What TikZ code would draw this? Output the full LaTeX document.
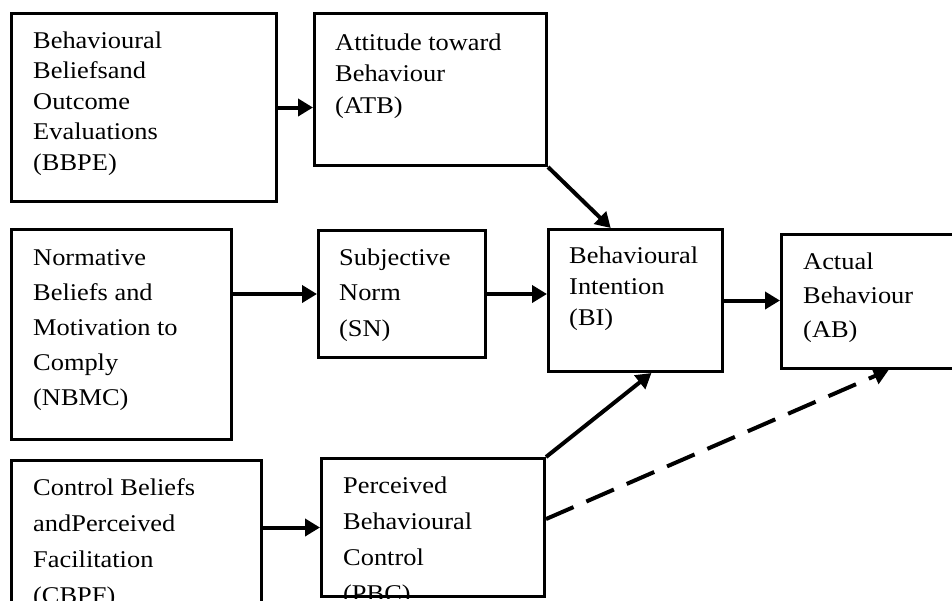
\documentclass[tikz,border=0pt]{standalone}
\usepackage{fontspec}
\setmainfont{Liberation Serif}[FakeStretch=1.1]
\usetikzlibrary{arrows.meta,calc}
\tikzset{
 box/.style={draw, line width=3pt, inner sep=0pt, anchor=north west, rectangle},
 lbl/.style={anchor=base west, inner sep=0pt, font=\fontsize{24}{30}\selectfont},
 arr/.style={line width=4pt, -{Triangle[length=15pt,width=17pt]}},
 darr/.style={arr, dash pattern=on 30pt off 14pt},
}
\newcommand\mlines[2]{\vtop{\baselineskip=#1\relax #2}}
\begin{document}
\begin{tikzpicture}[x=1pt,y=-1pt]
\useasboundingbox (0,0) rectangle (952,600);
\clip (0,0) rectangle (952,600);
\node[box, minimum width=265pt, minimum height=188pt] (bbpe) at (10,12) {};
\node[box, minimum width=232pt, minimum height=152pt] (atb) at (313,12) {};
\node[box, minimum width=220pt, minimum height=210pt] (nbmc) at (10,228) {};
\node[box, minimum width=167pt, minimum height=127pt] (sn) at (317,229) {};
\node[box, minimum width=174pt, minimum height=142pt] (bi) at (547,228) {};
\node[box, minimum width=185pt, minimum height=134pt] (ab) at (780,233) {};
\node[box, minimum width=250pt, minimum height=181pt] (cbpf) at (10,459) {};
\node[box, minimum width=223pt, minimum height=138pt] (pbc) at (320,457) {};

\node[lbl] (tbbpe) at ($(bbpe.north west)+(23,36)$) {\mlines{30.5pt}{\hbox{Behavioural}\hbox{Beliefsand}\hbox{Outcome}\hbox{Evaluations}\hbox{(BBPE)}}};
\node[lbl] (tatb) at ($(atb.north west)+(22,38)$) {\mlines{31.5pt}{\hbox{Attitude toward}\hbox{Behaviour}\hbox{(ATB)}}};
\node[lbl] (tnbmc) at ($(nbmc.north west)+(23,37)$) {\mlines{35pt}{\hbox{Normative}\hbox{Beliefs and}\hbox{Motivation to}\hbox{Comply}\hbox{(NBMC)}}};
\node[lbl] (tsn) at ($(sn.north west)+(22,36)$) {\mlines{35.5pt}{\hbox{Subjective}\hbox{Norm}\hbox{(SN)}}};
\node[lbl] (tbi) at ($(bi.north west)+(22,35)$) {\mlines{31pt}{\hbox{Behavioural}\hbox{Intention}\hbox{(BI)}}};
\node[lbl] (tab) at ($(ab.north west)+(23,36)$) {\mlines{34pt}{\hbox{Actual}\hbox{Behaviour}\hbox{(AB)}}};
\node[lbl] (tcbpf) at ($(cbpf.north west)+(23,36)$) {\mlines{36pt}{\hbox{Control Beliefs}\hbox{andPerceived}\hbox{Facilitation}\hbox{(CBPF)}}};
\begin{scope}
\clip (pbc.north west) rectangle (pbc.south east);
\node[lbl] (tpbc) at ($(pbc.north west)+(23,36)$) {\mlines{36pt}{\hbox{Perceived}\hbox{Behavioural}\hbox{Control}\hbox{(PBC)}}};
\end{scope}

\draw[arr] (bbpe.east) -- (bbpe.east -| atb.west);
\draw[arr] (atb.south east) -- ($(bi.north west)!0.36!(bi.north east)$);
\draw[arr] (nbmc.east |- sn.west) -- (sn.west);
\draw[arr] (sn.east) -- (sn.east -| bi.west);
\draw[arr] (bi.east) -- (bi.east -| ab.west);
\draw[arr] (cbpf.east |- pbc.west) -- (pbc.west);
\draw[arr] (pbc.north east) -- ($(bi.south west)!0.59!(bi.south east)$);
\draw[darr] ($(pbc.north east)!0.44!(pbc.south east)$) -- ($(ab.south west)!0.578!(ab.south east)$);
\end{tikzpicture}
\end{document}
